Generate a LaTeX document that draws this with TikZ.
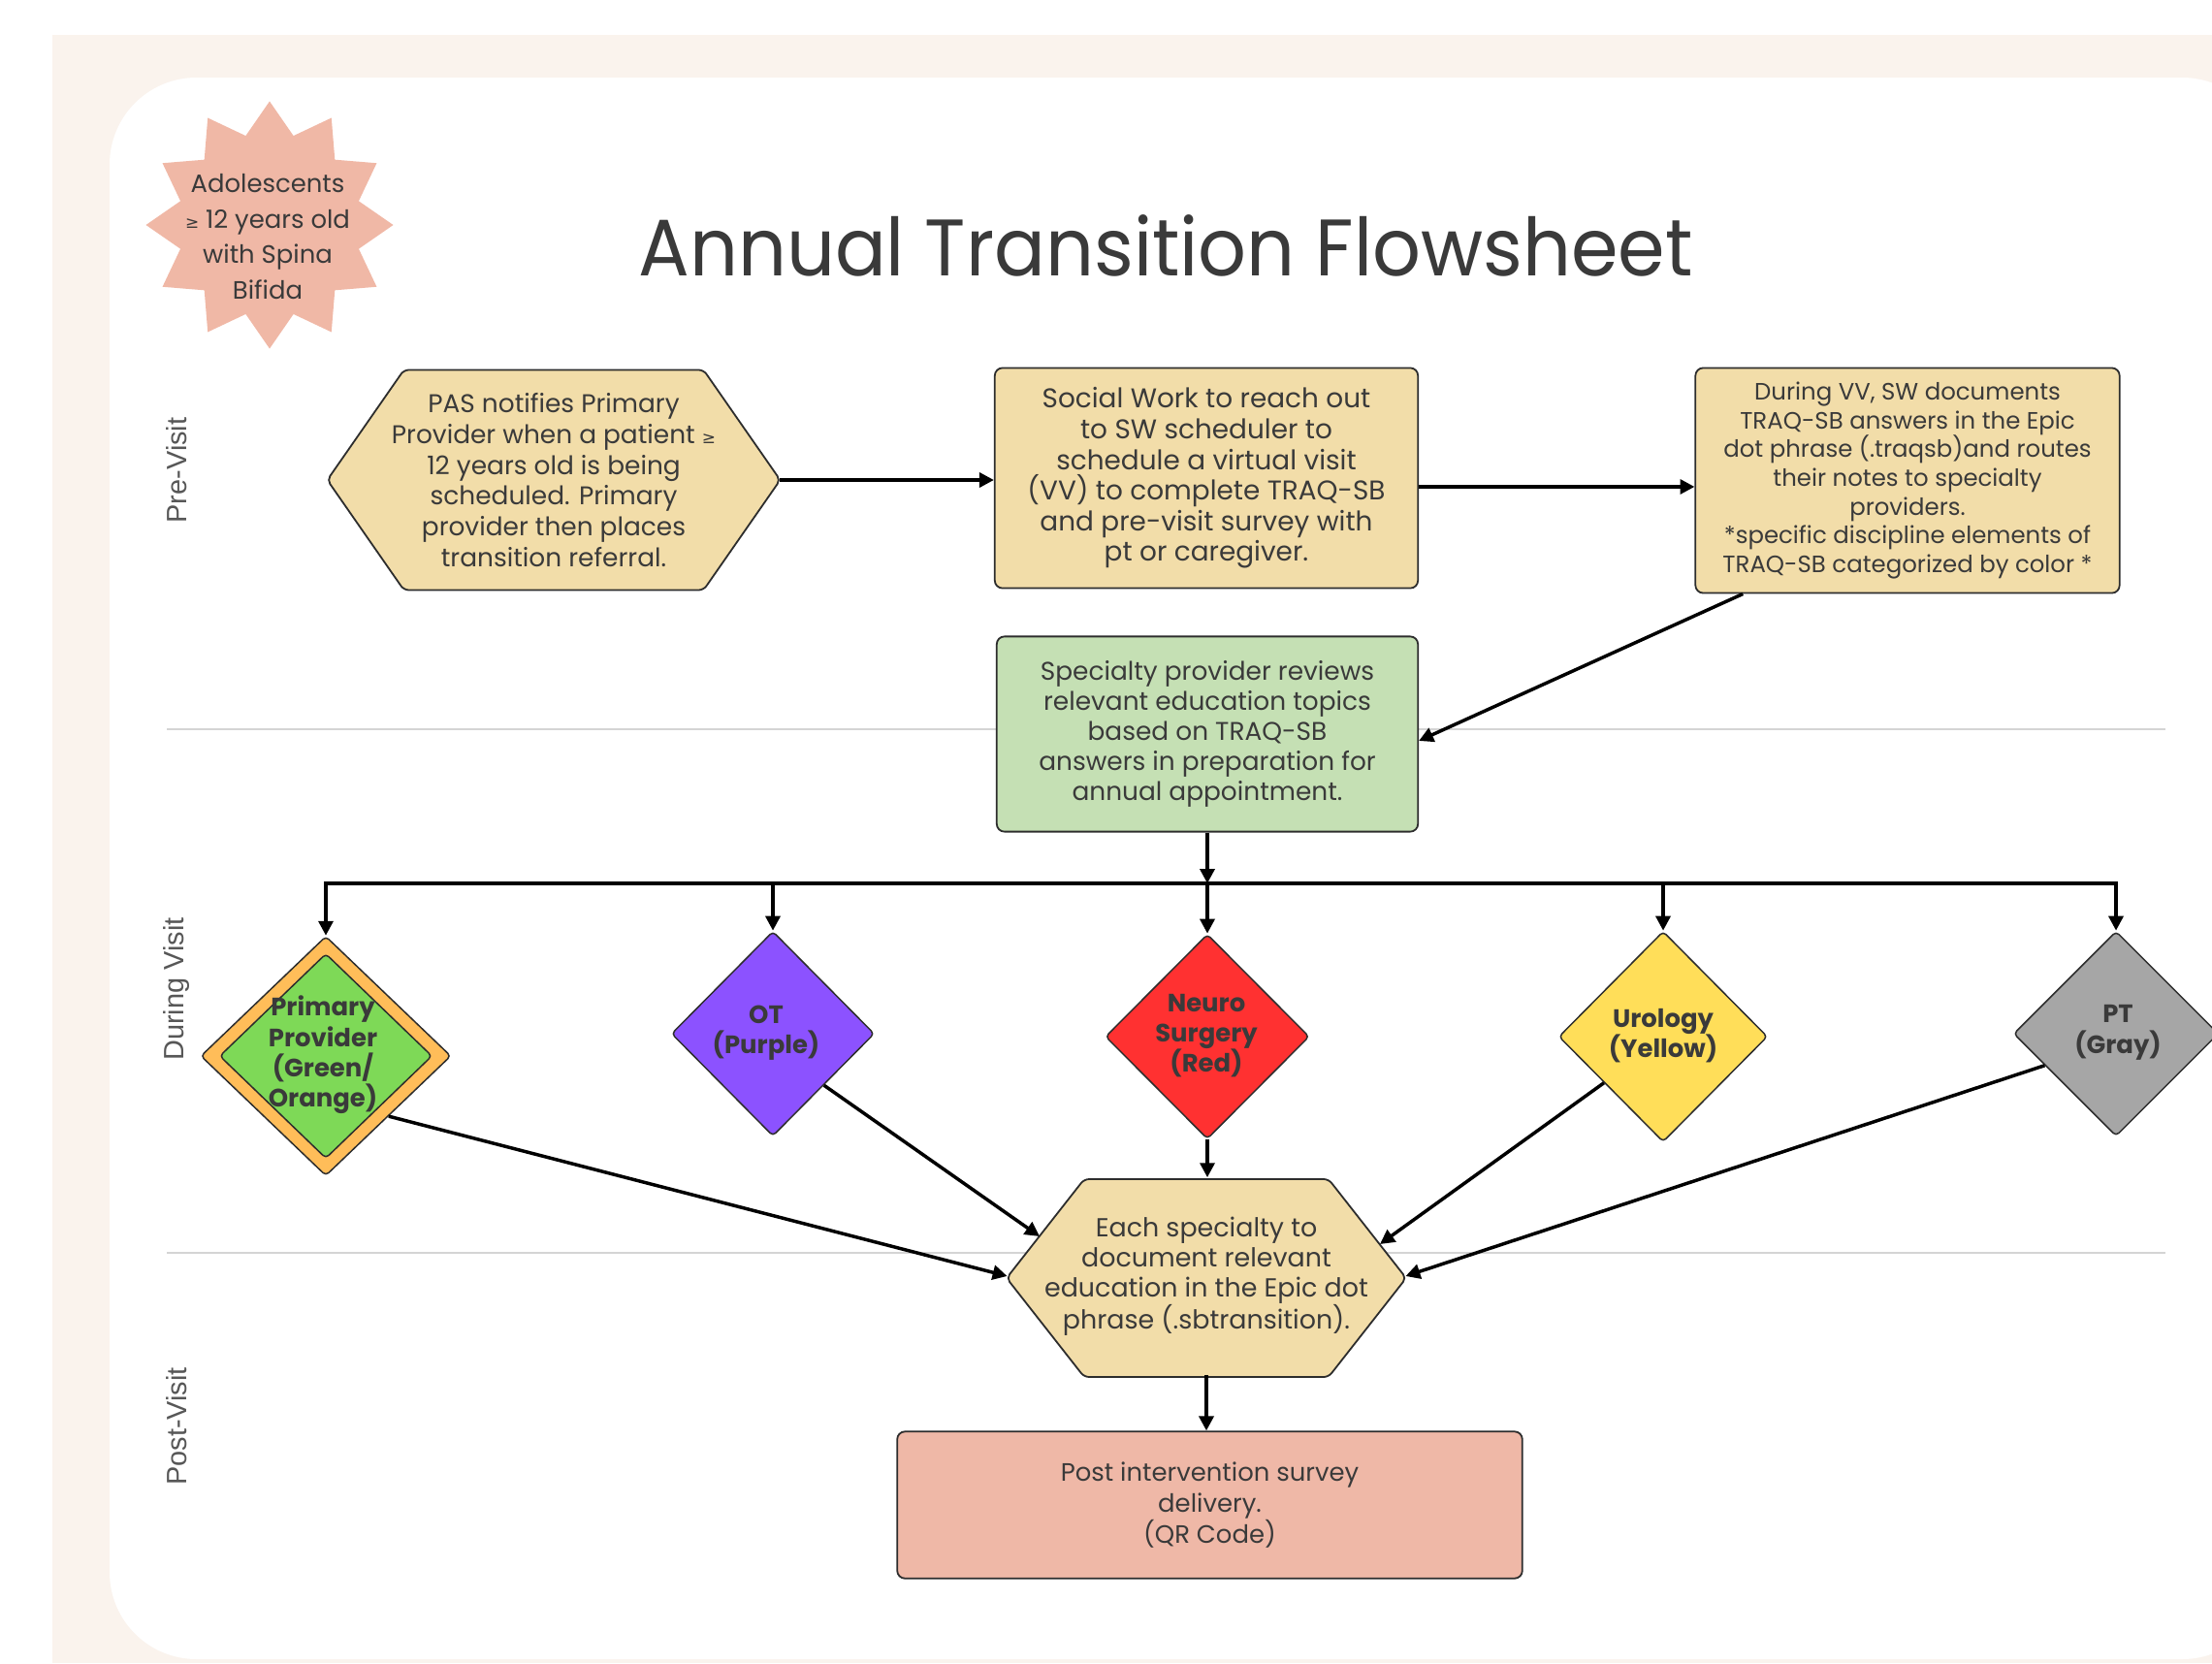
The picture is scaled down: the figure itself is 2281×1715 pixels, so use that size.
\documentclass[tikz,border=0pt]{standalone}
\usepackage{fontspec}
\setmainfont{Poppins}
\newfontfamily\titlefont{Poppins}
\newfontfamily\lanefont{Liberation Sans}
\newfontfamily\symfont{DejaVu Sans}
\usetikzlibrary{shapes.geometric,arrows.meta,calc}
\definecolor{bgbeige}{RGB}{250,243,237}
\definecolor{tanfill}{RGB}{242,221,169}
\definecolor{sagefill}{RGB}{197,224,180}
\definecolor{salmonfill}{RGB}{239,184,167}
\definecolor{starpink}{RGB}{240,184,166}
\definecolor{dgreen}{RGB}{126,217,87}
\definecolor{dorange}{RGB}{255,189,89}
\definecolor{dpurple}{RGB}{140,82,255}
\definecolor{dred}{RGB}{255,49,49}
\definecolor{dyellow}{RGB}{255,222,89}
\definecolor{dgrayfill}{RGB}{166,166,166}
\definecolor{txt}{RGB}{58,58,58}
\definecolor{edgec}{RGB}{45,45,45}
\definecolor{lanegray}{RGB}{212,212,212}
\newcommand{\gez}{{\symfont\fontsize{17}{17}\selectfont ≥}}
% hexagon outline: centre x, centre y, width, height, slant
\newcommand{\hexagonat}[5]{%
  \draw[hexdraw] ({#1-#3/2},#2) -- ({#1-#3/2+#5},{#2-#4/2}) -- ({#1+#3/2-#5},{#2-#4/2})
    -- ({#1+#3/2},#2) -- ({#1+#3/2-#5},{#2+#4/2}) -- ({#1-#3/2+#5},{#2+#4/2}) -- cycle;}
\begin{document}
\begin{tikzpicture}[x=1bp,y=-1bp,
  box/.style={draw=edgec, line width=1.8, rounded corners=8, align=center, text=txt, inner sep=0},
  hexdraw/.style={draw=edgec, line width=1.8, fill=tanfill, rounded corners=5},
  hextext/.style={align=center, text=txt, inner sep=0},
  dia/.style={diamond, draw=edgec, line width=1.5, inner sep=0, rounded corners=4},
  dtext/.style={align=center, text=txt, font={\bfseries\fontsize{26}{31.5}\selectfont}, inner sep=0},
  lanelabel/.style={rotate=90, text=txt!85, font={\lanefont\fontsize{29}{29}\selectfont}, inner sep=0},
  conn/.style={draw=black, line width=3.5},
  arr/.style={conn, -{Triangle[length=15,width=15]}},
  lane/.style={draw=lanegray, line width=2}]
\useasboundingbox (0,0) rectangle (2281,1715);
% background
\fill[white] (0,0) rectangle (2281,1715);
\fill[bgbeige] (54,36) rectangle (2281,1715);
\fill[white, rounded corners=90] (113,80) rectangle (2340,1711);
% lane separators
\draw[lane] (172,752) -- (2233,752);
\draw[lane] (172,1292) -- (2233,1292);
% lane labels
\node[lanelabel] (lpre) at (182,485) {Pre-Visit};
\node[lanelabel] (ldur) at (182,1020) {During Visit};
\node[lanelabel] (lpost) at (182,1471) {Post-Visit};
% starburst
\node[star, star points=12, star point ratio=1.34, minimum size=256, fill=starpink, inner sep=0] (star) at (278,232) {};
\node[align=center, text=txt, inner sep=0, font={\fontsize{26}{36.5}\selectfont}] (startext) at (276,244) {Adolescents\\\gez\ 12 years old\\with Spina\\Bifida};
% title
\node[anchor=base, text=txt, inner sep=0, font={\titlefont\fontsize{83}{83}\selectfont}] (title) at (1202,284) {\scalebox{0.945}[1]{Annual Transition Flowsheet}};
% pre-visit nodes
\hexagonat{571}{495}{467}{227}{79}
\node[hextext, minimum width=467, minimum height=227, font={\fontsize{26.5}{32}\selectfont}] (hexA) at (571,495)
  {PAS notifies Primary\\Provider when a patient \gez\\12 years old is being\\scheduled. Primary\\provider then places\\transition referral.};
\node[box, fill=tanfill, minimum width=438, minimum height=228, font={\fontsize{28}{31.7}\selectfont}] (social) at (1244,493)
  {Social Work to reach out\\to SW scheduler to\\schedule a virtual visit\\(VV) to complete TRAQ-SB\\and pre-visit survey with\\pt or caregiver.};
\node[box, fill=tanfill, minimum width=439, minimum height=233, font={\fontsize{24.5}{29.7}\selectfont}] (vv) at (1967,495.5)
  {During VV, SW documents\\TRAQ-SB answers in the Epic\\dot phrase (.traqsb)and routes\\their notes to specialty\\providers.\\*specific discipline elements of\\TRAQ-SB categorized by color *};
\node[box, fill=sagefill, minimum width=436, minimum height=202, font={\fontsize{26.5}{31}\selectfont}] (spec) at (1245,757)
  {Specialty provider reviews\\relevant education topics\\based on TRAQ-SB\\answers in preparation for\\annual appointment.};
% diamonds
\node[dia, fill=dorange, minimum width=259, minimum height=248] (pp) at (336,1089) {};
\node[dia, fill=dgreen, minimum width=220, minimum height=212] (ppin) at (336,1089) {};
\node[dtext] (pptext) at (333,1088) {Primary\\Provider\\(Green/\\Orange)};
\node[dia, fill=dpurple, minimum width=210, minimum height=212] (ot) at (797,1066) {};
\node[dtext] (ottext) at (790,1065) {OT\\(Purple)};
\node[dia, fill=dred, minimum width=211, minimum height=212] (ns) at (1245,1069) {};
\node[dtext] (nstext) at (1244,1068) {Neuro\\Surgery\\(Red)};
\node[dia, fill=dyellow, minimum width=216, minimum height=218] (ur) at (1715,1069) {};
\node[dtext] (urtext) at (1715,1068) {Urology\\(Yellow)};
\node[dia, fill=dgrayfill, minimum width=212, minimum height=212] (pt) at (2182,1066) {};
\node[dtext] (pttext) at (2184,1065) {PT\\(Gray)};
% documentation hexagon
\hexagonat{1244}{1318}{412}{204}{80}
\node[hextext, minimum width=412, minimum height=204, font={\fontsize{27}{31}\selectfont}] (hexB) at (1244,1316)
  {Each specialty to\\document relevant\\education in the Epic dot\\phrase (.sbtransition).};
\coordinate (hexBul) at (1072,1275);
\coordinate (hexBur) at (1423,1283);
% post visit
\node[box, fill=salmonfill, minimum width=647, minimum height=152, font={\fontsize{26}{32}\selectfont}] (post) at (1247.5,1552)
  {Post intervention survey\\delivery.\\(QR Code)};
% connectors
\coordinate (bus) at (1245,911);
\draw[arr] (hexA.east) -- (hexA.east -| social.west);
\draw[arr] ([yshift=-9]social.east) -- ([yshift=-9]social.east -| vv.west);
\draw[arr] ([xshift=50]vv.south west) -- ([yshift=-7]spec.east);
\draw[arr] (spec.south) -- (bus);
\draw[arr] (bus) -| (pp.north);
\draw[arr] (bus) -| (pt.north);
\draw[arr] (ot.north |- bus) -- (ot.north);
\draw[arr] (bus) -- (ns.north);
\draw[arr] (ur.north |- bus) -- (ur.north);
\draw[arr] (pp.south east) -- (hexB.west);
\draw[arr] (ot.south east) -- (hexBul);
\draw[arr] (ns.south) -- (ns.south |- hexB.north);
\draw[arr] (ur.218) -- (hexBur);
\draw[arr] (pt.204) -- (hexB.east);
\draw[arr] (hexB.south) -- (hexB.south |- post.north);
\end{tikzpicture}
\end{document}
